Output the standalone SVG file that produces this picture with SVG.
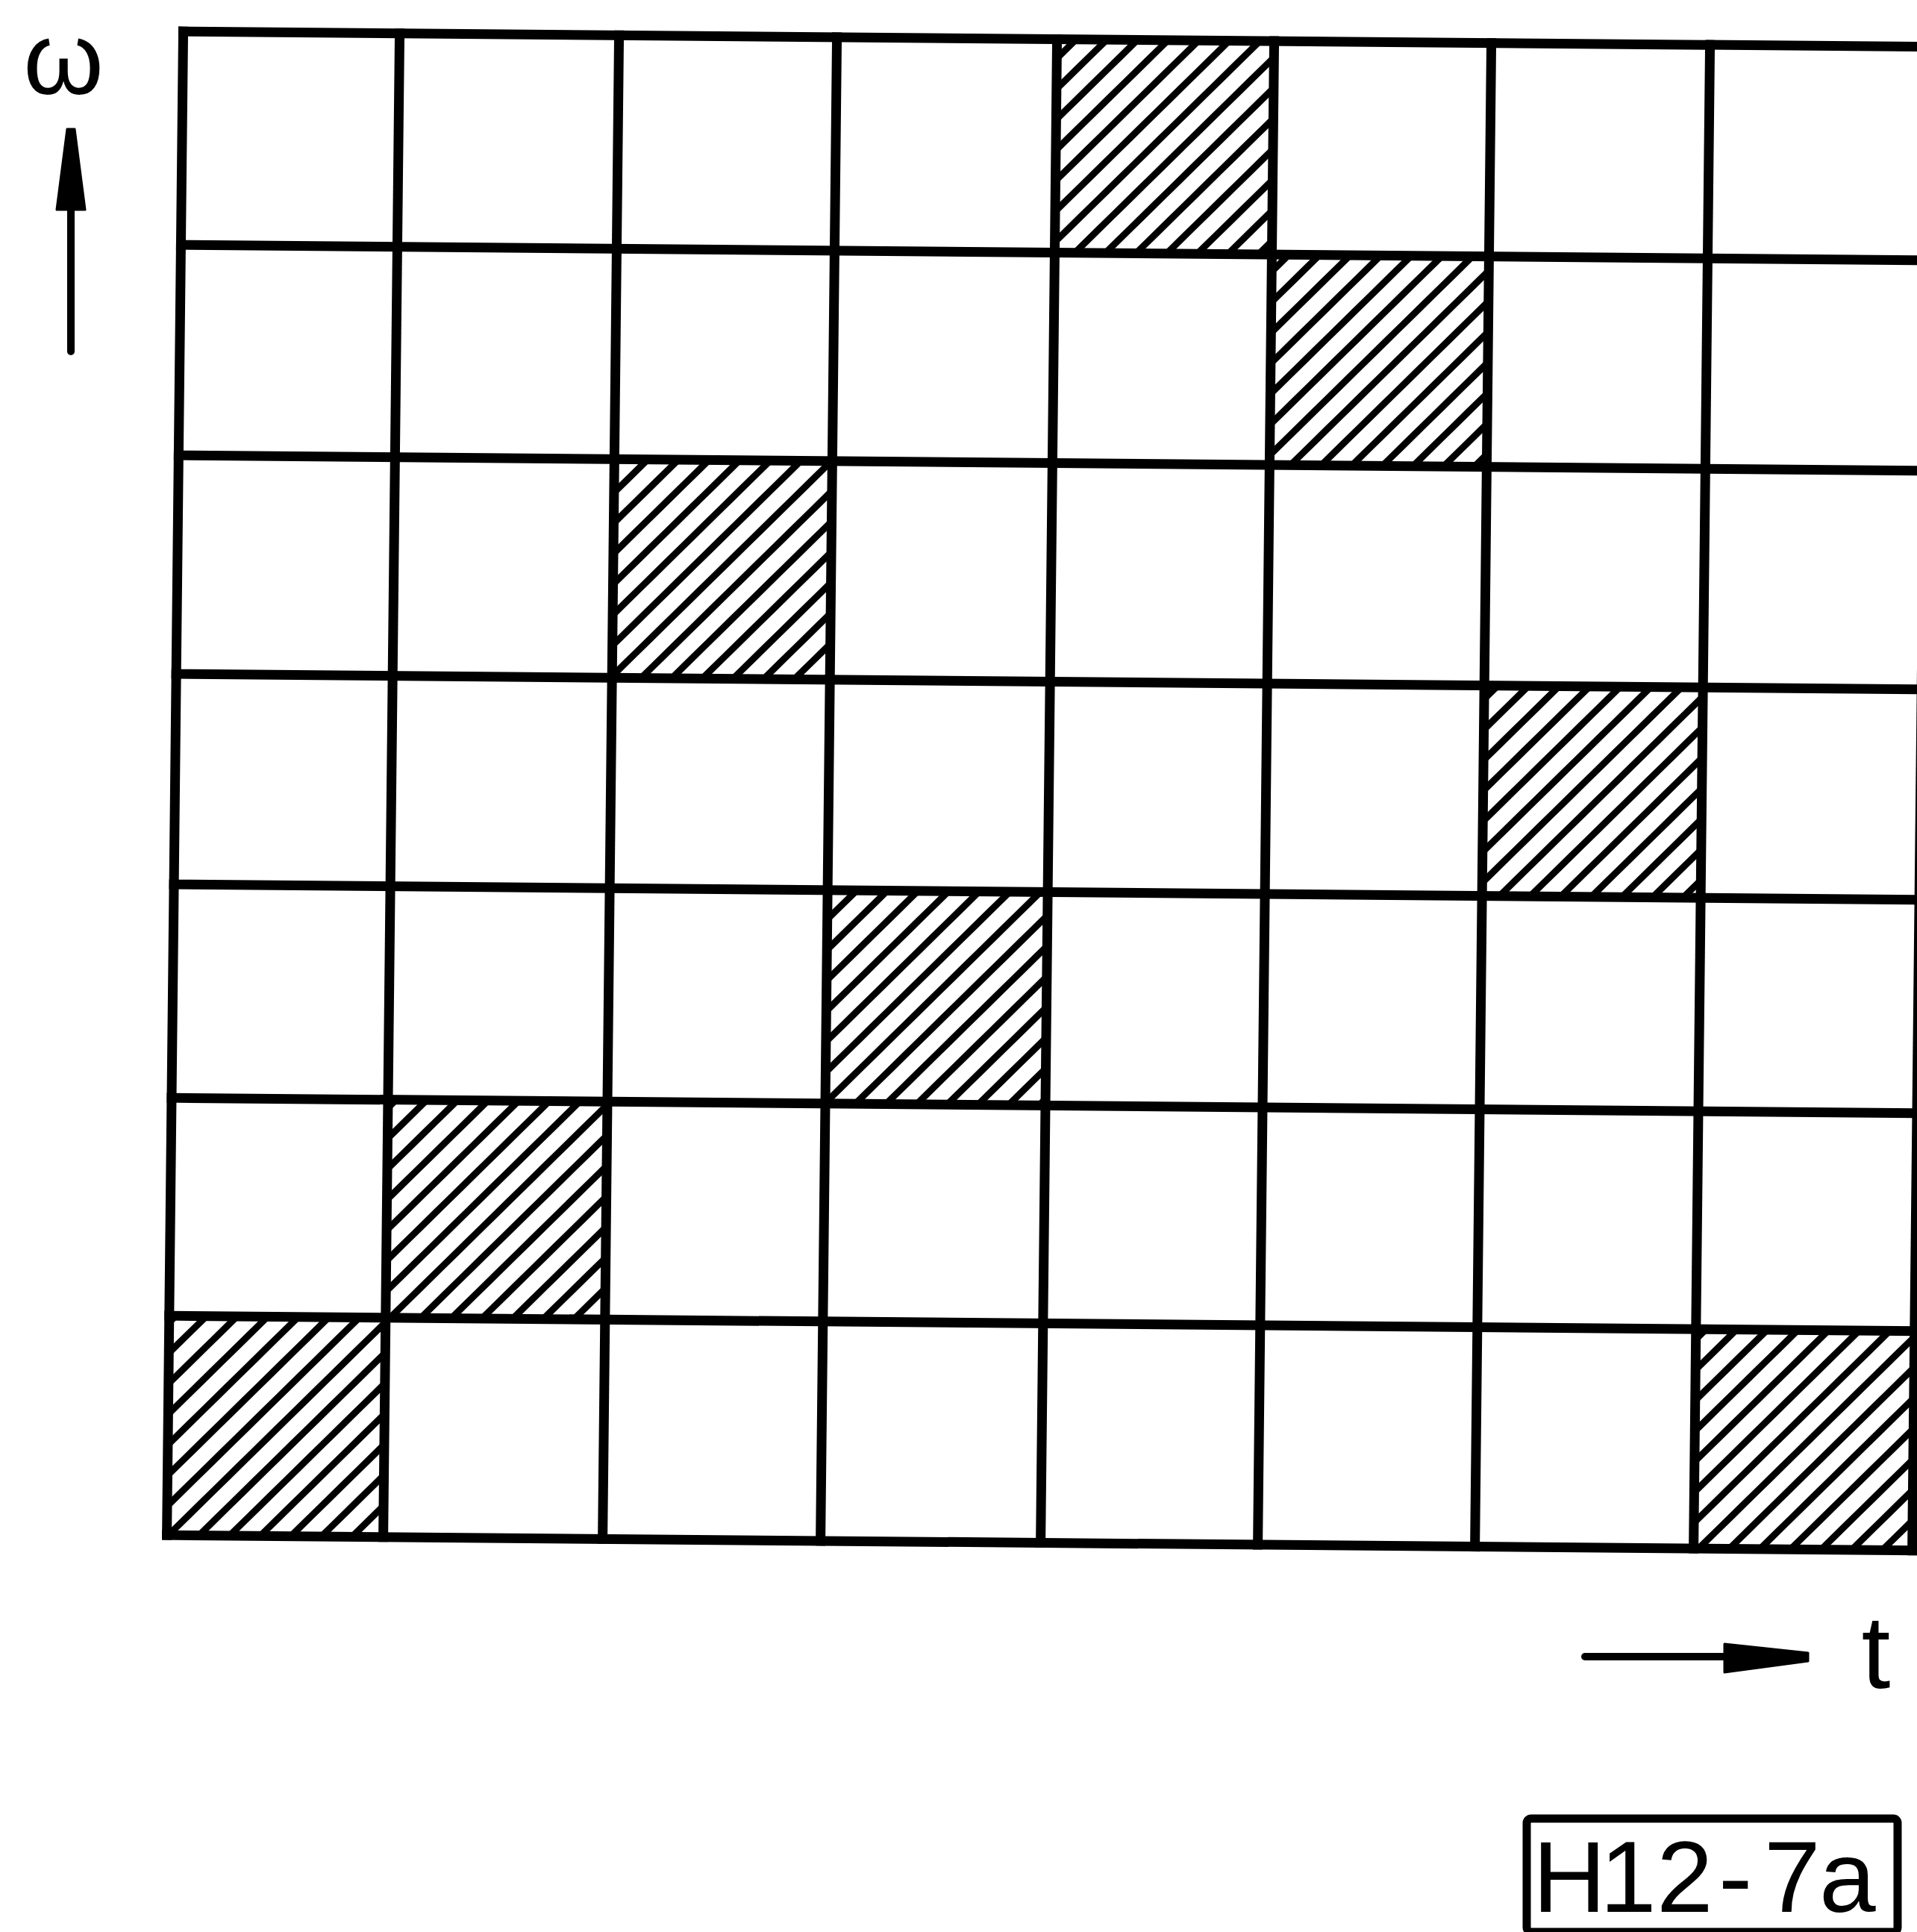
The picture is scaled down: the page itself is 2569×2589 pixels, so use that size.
<svg xmlns="http://www.w3.org/2000/svg" width="2569" height="2589" viewBox="0 0 2569 2589">
<defs>
<pattern id="hatch" patternUnits="userSpaceOnUse" width="29" height="29" patternTransform="rotate(45)">
<rect x="0" y="0" width="9" height="29" fill="#000"/>
</pattern>
<style>
.gl line { stroke:#000; stroke-width:13; stroke-linecap:square; }
.hc { fill:url(#hatch); }
.lbl { font-family:"Liberation Sans", Arial, sans-serif; fill:#000; }
.arr { fill:#000; stroke:#000; stroke-width:3; stroke-linejoin:round; }
.shaft { stroke:#000; stroke-width:10; stroke-linecap:round; }
</style>
</defs>
<rect width="2569" height="2589" fill="#fff"/>
<g id="grid" transform="matrix(1 0.0088 -0.0109 1 0 0)">
  <g id="hatched-cells">
    <rect id="cell-r0-c4" class="hc" x="1417" y="40" width="291" height="286"/>
    <rect id="cell-r1-c5" class="hc" x="1708" y="326" width="291" height="282"/>
    <rect id="cell-r2-c2" class="hc" x="830" y="608" width="292" height="293"/>
    <rect id="cell-r3-c6" class="hc" x="1999" y="901" width="293" height="282"/>
    <rect id="cell-r4-c3" class="hc" x="1122" y="1183" width="295" height="286"/>
    <rect id="cell-r5-c1" class="hc" x="536" y="1469" width="294" height="292"/>
    <rect id="cell-r6-c0" class="hc" x="246" y="1761" width="290" height="294"/>
    <rect id="cell-r6-c7" class="hc" x="2292" y="1761" width="293" height="294"/>
  </g>
  <g id="grid-lines" class="gl">
    <line x1="246" y1="40" x2="246" y2="2055"/>
    <line x1="536" y1="40" x2="536" y2="2055"/>
    <line x1="830" y1="40" x2="830" y2="2055"/>
    <line x1="1122" y1="40" x2="1122" y2="2055"/>
    <line x1="1417" y1="40" x2="1417" y2="2055"/>
    <line x1="1708" y1="40" x2="1708" y2="2055"/>
    <line x1="1999" y1="40" x2="1999" y2="2055"/>
    <line x1="2292" y1="40" x2="2292" y2="2055"/>
    <line x1="2585" y1="40" x2="2585" y2="2055"/>
    <line x1="246" y1="40" x2="2585" y2="40"/>
    <line x1="246" y1="326" x2="2585" y2="326"/>
    <line x1="246" y1="608" x2="2585" y2="608"/>
    <line x1="246" y1="901" x2="2585" y2="901"/>
    <line x1="246" y1="1183" x2="2585" y2="1183"/>
    <line x1="246" y1="1469" x2="2585" y2="1469"/>
    <line x1="246" y1="1761" x2="2585" y2="1761"/>
    <line x1="246" y1="2055" x2="2585" y2="2055"/>
  </g>
</g>
<g id="omega-axis">
  <text class="lbl" x="85" y="126" font-size="138" text-anchor="middle">ω</text>
  <line class="shaft" x1="95" y1="280" x2="95" y2="471"/>
  <polygon class="arr" points="90,173 100,173 114,281 76,281"/>
</g>
<g id="t-axis">
  <line class="shaft" x1="2124" y1="2220" x2="2315" y2="2220"/>
  <polygon class="arr" points="2311,2203 2423,2215 2423,2226 2311,2241"/>
  <text class="lbl" x="2514" y="2262" font-size="140" text-anchor="middle">t</text>
</g>
<g id="label-box">
  <rect x="2046" y="2437" width="497" height="152" rx="6" fill="none" stroke="#000" stroke-width="11"/>
  <text class="lbl" x="2054 2144 2220 2303 2364 2438" y="2562" font-size="136">H12-7a</text>
</g>
</svg>
